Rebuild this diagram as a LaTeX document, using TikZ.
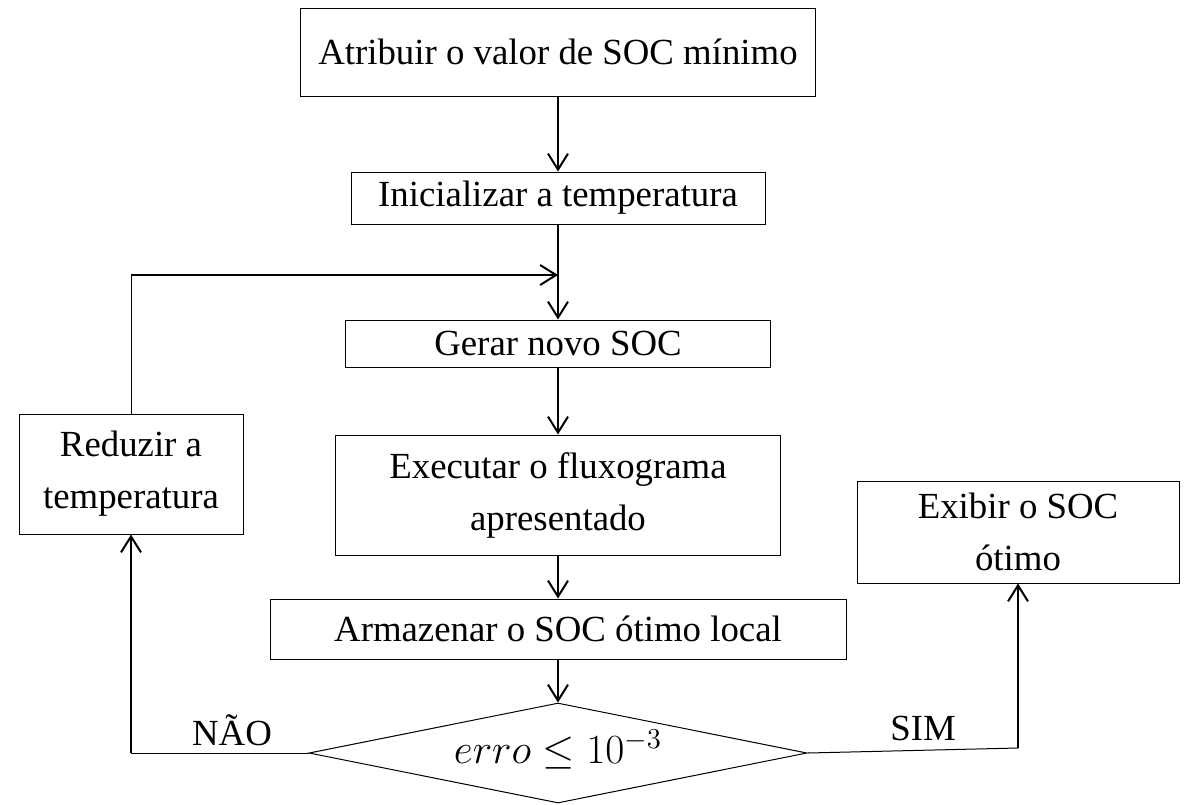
\documentclass[tikz,border=0pt]{standalone}
\usepackage{fontspec}
\setmainfont{Liberation Serif}
\usetikzlibrary{shapes.geometric,arrows.meta}

\begin{document}
\begin{tikzpicture}[x=0.5pt,y=-0.5pt,
  font=\fontsize{18.4}{26}\selectfont,
  caixa/.style={draw,line width=0.5pt,align=center,inner sep=0pt},
  decisao/.style={draw,line width=0.5pt,diamond,aspect=5,inner sep=0pt,
    minimum width=249pt,minimum height=50pt},
  seta/.style={line width=1pt,-{Straight Barb[length=8pt,width=10pt]}},
  fina/.style={line width=0.5pt}]
\useasboundingbox (0,0) rectangle (1187,804);
% fluxo principal
\node[caixa,minimum width=257.5pt,minimum height=44pt] (atribuir) at (558,52) {Atribuir o valor de SOC mínimo};
\node[caixa,minimum width=207pt,minimum height=26pt] (inicializar) at (558,198) {Inicializar a temperatura};
\node[caixa,minimum width=212.5pt,minimum height=23.5pt] (gerar) at (558,343.5) {Gerar novo SOC};
\node[caixa,minimum width=222.5pt,minimum height=60pt] (executar) at (558,495) {Executar o fluxograma\\apresentado};
\node[caixa,minimum width=288pt,minimum height=30pt] (armazenar) at (558,629) {Armazenar o SOC ótimo local};
\node[decisao,font=\fontsize{20.5}{26}\selectfont] (erro) at (558,753) {\raisebox{6pt}{$erro \leq 10^{-3}$}};
% ramos laterais
\node[caixa,minimum width=112pt,minimum height=60pt] (reduzir) at (131,474) {Reduzir a\\temperatura};
\node[caixa,minimum width=161pt,minimum height=51pt] (exibir) at (1018,532) {Exibir o SOC\\ótimo};
\node[anchor=base] (nao) at (232,745) {NÃO};
\node[anchor=base] (sim) at (923,740) {SIM};
% ligacoes
\draw[seta] (atribuir) -- (inicializar);
\draw[seta] (inicializar) -- (gerar);
\draw[seta] (gerar) -- (executar);
\draw[seta] (executar) -- (armazenar);
\draw[seta] (armazenar) -- (erro);
\coordinate (juncao) at (558,275);
\coordinate (retorno) at (reduzir.north |- juncao);
\draw[fina] (reduzir) -- (retorno);
\draw[seta] (retorno) -- (juncao);
\coordinate (naoCanto) at (reduzir.south |- erro.west);
\draw[fina] (erro.west) -- (naoCanto);
\draw[seta] (naoCanto) -- (reduzir.south);
\coordinate (simCanto) at (1018,748);
\draw[fina] (erro.east) -- (simCanto);
\draw[seta] (simCanto) -- (exibir.south);
\end{tikzpicture}
\end{document}
